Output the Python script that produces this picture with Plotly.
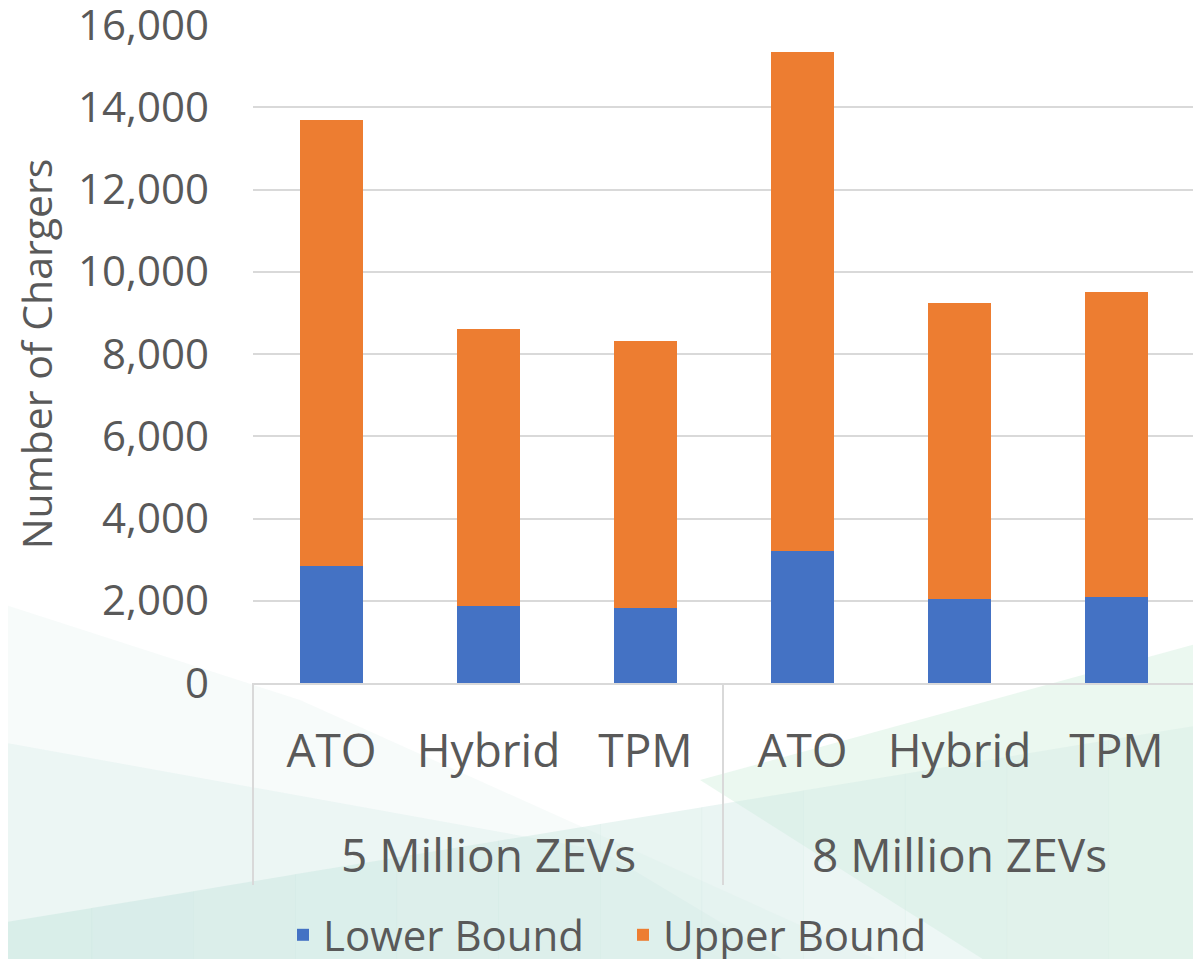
import plotly.graph_objects as go

# data
groups = ["5 Million ZEVs"] * 3 + ["8 Million ZEVs"] * 3
methods = ["ATO", "Hybrid", "TPM", "ATO", "Hybrid", "TPM"]
lower_bound = [2850, 1880, 1830, 3210, 2040, 2090]
upper_bound = [10840, 6720, 6490, 12140, 7200, 7420]

# the page body has an 8px margin, so the figure is 8px smaller than the window
OFF = 8
W, H = 1201 - OFF, 959 - OFF
L, R, T, B = 245, 6, 17, 276
pw, ph = W - L - R, H - T - B


def px(x, y):
    # window pixel position -> paper coords (for decoration only)
    return (x - OFF - L) / pw, (H - B - (y - OFF)) / ph


def poly(pts, color):
    p = [px(x, y) for x, y in pts]
    path = "M " + " L ".join(f"{a:.4f},{b:.4f}" for a, b in p) + " Z"
    return dict(type="path", xref="paper", yref="paper", path=path,
                fillcolor=color, line=dict(width=0), layer="below")


def vline(x, y0, y1):
    (a, b0), (_, b1) = px(x, y0), px(x, y1)
    return dict(type="line", xref="paper", yref="paper", x0=a, x1=a, y0=b0, y1=b1,
                line=dict(color="#d9d9d9", width=2), layer="above")


font = "Open Sans, DejaVu Sans, sans-serif"
grey = "#595959"

# an empty second line pushes the group row further down
x_labels = [groups, [m + "<br><span style='font-size:70px'> </span>" for m in methods]]

fig = go.Figure()
fig.add_trace(go.Bar(x=x_labels, y=lower_bound, name="Lower Bound",
                     marker=dict(color="#4472C4", line=dict(width=0))))
fig.add_trace(go.Bar(x=x_labels, y=upper_bound, name="Upper Bound",
                     marker=dict(color="#ED7D31", line=dict(width=0))))

# soft teal/green wash in the lower part of the slide
shapes = [
    poly([(-10, 600), (300, 700), (900, 970), (-10, 970)], "rgba(222,239,237,0.25)"),
    poly([(-10, 740), (600, 850), (800, 970), (-10, 970)], "rgba(222,239,237,0.45)"),
    poly([(700, 780), (1210, 640), (1210, 970), (1000, 970)], "rgba(222,244,230,0.6)"),
]
n = 12
for i in range(n):
    x0, x1 = -10 + i * 1220 / n, -10 + (i + 1) * 1220 / n
    y0, y1 = 923 - 0.165 * x0, 923 - 0.165 * x1
    a = 0.62 - 0.32 * i / (n - 1)
    shapes.append(poly([(x0, y0), (x1 + 0.5, y1), (x1 + 0.5, 970), (x0, 970)],
                       f"rgba(205,232,226,{a:.3f})"))
shapes += [vline(253, 683, 885), vline(723, 683, 885), vline(1194, 683, 885)]

fig.update_layout(
    width=W, height=H,
    margin=dict(l=L, r=R, t=T, b=B, autoexpand=False),
    barmode="stack",
    bargap=0.6,
    paper_bgcolor="white",
    plot_bgcolor="rgba(0,0,0,0)",
    font=dict(family=font, color=grey, size=40),
    shapes=shapes,
    showlegend=True,
    legend=dict(orientation="h", x=px(623, 0)[0], xanchor="center",
                y=px(0, 935)[1], yanchor="middle",
                font=dict(size=42, color=grey), traceorder="normal",
                entrywidth=295, entrywidthmode="pixels",
                bgcolor="rgba(0,0,0,0)"),
)
fig.update_yaxes(range=[0, 16000], tickvals=list(range(0, 16001, 2000)), tickformat=",",
                 showgrid=True, gridcolor="#d9d9d9", gridwidth=2,
                 zeroline=False, showline=False, automargin=False,
                 ticklabeloverflow="allow",
                 tickfont=dict(size=42, color=grey), ticklabelstandoff=43,
                 title=dict(text="Number of Chargers", standoff=14,
                            font=dict(size=41, color=grey)))
fig.update_xaxes(type="multicategory", showline=True, linecolor="#d9d9d9",
                 linewidth=2, showdividers=False, automargin=False,
                 ticks="", ticklabelstandoff=27,
                 tickfont=dict(size=46, color=grey), showgrid=False)

fig.write_html("out.html")
